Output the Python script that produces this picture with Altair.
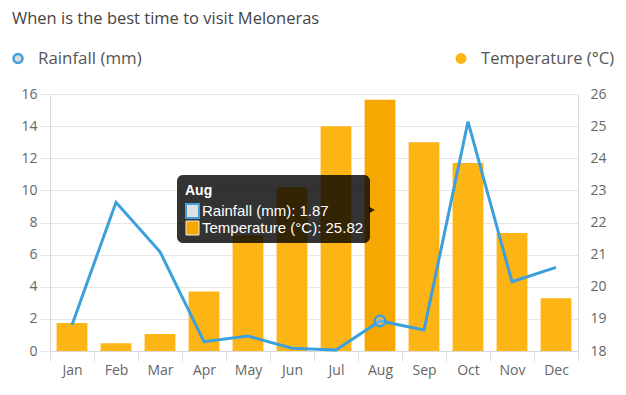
import altair as alt
import pandas as pd

months = ["Jan", "Feb", "Mar", "Apr", "May", "Jun", "Jul", "Aug", "Sep", "Oct", "Nov", "Dec"]
rainfall = [1.62, 9.26, 6.18, 0.58, 0.93, 0.17, 0.06, 1.87, 1.31, 14.28, 4.31, 5.21]
temperature = [18.87, 18.24, 18.53, 19.85, 21.6, 23.1, 25.0, 25.82, 24.5, 23.85, 21.67, 19.64]
left_ticks = [0, 2, 4, 6, 8, 10, 12, 14, 16]
right_ticks = [18, 19, 20, 21, 22, 23, 24, 25, 26]

title_text = "When is the best time to visit Meloneras"
rain_label = "Rainfall (mm)"
temp_label = "Temperature (°C)"
focus = "Aug"

BLUE = "#3D9FDB"
ORANGE = "#FDB515"
ORANGE_DARK = "#F6A800"
GRID = "#e6e6e6"
FONT = "Open Sans"

df = pd.DataFrame({"month": months, "rainfall": rainfall, "temperature": temperature})
one = pd.DataFrame({"k": [0]})

x_enc = alt.X(
    "month:N",
    sort=months,
    scale=alt.Scale(paddingInner=0, paddingOuter=0),
    axis=alt.Axis(
        title=None, labelAngle=0, tickBand="extent", tickSize=10, labelPadding=2,
        grid=False, domainColor="#d9d9d9", tickColor="#e0e0e0",
    ),
)

y_rain = alt.Y(
    "rainfall:Q",
    scale=alt.Scale(domain=[0, 16], nice=False),
    axis=alt.Axis(
        orient="left", title=None, values=left_ticks, tickCount=40, format="d",
        grid=True, gridColor=GRID, tickSize=10, tickColor=GRID, labelPadding=3,
        domainColor="#d9d9d9", labelOverlap=False,
    ),
)

bars = alt.Chart(df).mark_bar(width=alt.RelativeBandSize(0.7)).encode(
    x=x_enc,
    y=alt.Y(
        "temperature:Q",
        scale=alt.Scale(domain=[18, 26], zero=False, nice=False),
        axis=alt.Axis(
            orient="right", title=None, values=right_ticks, tickCount=40, format="d",
            grid=False, ticks=False, labelPadding=12, domainColor="#d9d9d9",
            labelOverlap=False,
        ),
    ),
    y2=alt.datum(18),
    color=alt.condition(alt.datum.month == focus, alt.value(ORANGE_DARK), alt.value(ORANGE)),
)

line = alt.Chart(df).mark_line(strokeWidth=3, color=BLUE).encode(x=x_enc, y=y_rain)

pt = alt.Chart(df).transform_filter(alt.datum.month == focus).mark_point(
    shape="circle", size=110, strokeWidth=2.5, stroke=BLUE, fill="#cfd8de", fillOpacity=0.35, opacity=1
).encode(x=x_enc, y=y_rain)

rain_layer = alt.layer(line, pt)

# title and legend
title = alt.Chart(one).mark_text(
    text=title_text, align="left", baseline="alphabetic", font=FONT, fontSize=16.5, color="#444"
).encode(x=alt.value(-38), y=alt.value(-70.5))

leg_rain_dot = alt.Chart(one).mark_point(
    shape="circle", size=80, strokeWidth=2.5, stroke=BLUE, fill="#dddddd", opacity=1, fillOpacity=1
).encode(x=alt.value(-32), y=alt.value(-35.5))
leg_rain_txt = alt.Chart(one).mark_text(
    text=rain_label, align="left", baseline="middle", font=FONT, fontSize=16.9, color="#555"
).encode(x=alt.value(-12), y=alt.value(-35.5))
leg_temp_dot = alt.Chart(one).mark_point(
    shape="circle", size=120, filled=True, color=ORANGE, opacity=1
).encode(x=alt.value(411), y=alt.value(-35.5))
leg_temp_txt = alt.Chart(one).mark_text(
    text=temp_label, align="left", baseline="middle", font=FONT, fontSize=16.6, color="#555"
).encode(x=alt.value(431), y=alt.value(-35.5))

# tooltip overlay
tip_box = alt.Chart(one).mark_rect(cornerRadius=6, color="black", opacity=0.8).encode(
    x=alt.value(127), x2=alt.value(320), y=alt.value(81), y2=alt.value(149)
)
tip_arrow = alt.Chart(one).mark_point(
    shape="triangle-right", size=45, filled=True, color="black", opacity=0.8
).encode(x=alt.value(322), y=alt.value(116))
tip_title = alt.Chart(one).mark_text(
    text=focus, align="left", baseline="alphabetic", font="Liberation Sans", fontSize=14,
    fontWeight="bold", color="white"
).encode(x=alt.value(135), y=alt.value(101))
sw1 = alt.Chart(one).mark_rect(fill="#e0e0e0", stroke=BLUE, strokeWidth=2).encode(
    x=alt.value(136), x2=alt.value(149), y=alt.value(110), y2=alt.value(124)
)
sw2 = alt.Chart(one).mark_rect(fill=ORANGE_DARK, stroke="#eeeeee", strokeWidth=1).encode(
    x=alt.value(136), x2=alt.value(149), y=alt.value(127), y2=alt.value(141)
)
idx = months.index(focus)
tip_l1 = alt.Chart(one).mark_text(
    text=f"{rain_label}: {rainfall[idx]}", align="left", baseline="alphabetic",
    font="Liberation Sans", fontSize=15, color="white"
).encode(x=alt.value(152), y=alt.value(122))
tip_l2 = alt.Chart(one).mark_text(
    text=f"{temp_label}: {temperature[idx]}", align="left", baseline="alphabetic",
    font="Liberation Sans", fontSize=15, color="white"
).encode(x=alt.value(152), y=alt.value(139))

chart = alt.layer(
    bars, rain_layer,
    title, leg_rain_dot, leg_rain_txt, leg_temp_dot, leg_temp_txt,
    tip_box, tip_arrow, tip_title, sw1, sw2, tip_l1, tip_l2,
).resolve_scale(y="independent").properties(
    width=528, height=257,
    autosize=alt.AutoSizeParams(type="none"),
    padding={"left": 42, "top": 86, "right": 40, "bottom": 30},
).configure_view(stroke=None).configure_axis(
    labelFont=FONT, labelFontSize=14, labelColor="#666"
)

chart.save("out.html", embed_options={"renderer": "svg", "actions": False})
